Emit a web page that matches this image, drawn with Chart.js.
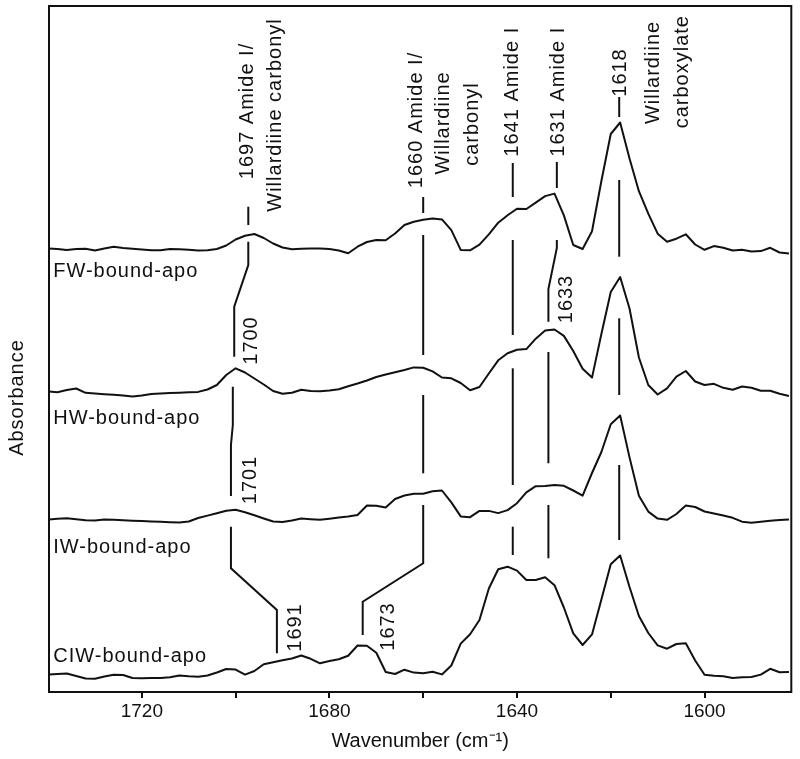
<!DOCTYPE html>
<html>
<head>
<meta charset="utf-8">
<script src="https://cdn.jsdelivr.net/npm/chart.js@4.4.0/dist/chart.umd.min.js"></script>
<style>
  html, body { margin: 0; padding: 0; background: #fff; }
</style>
</head>
<body>
<canvas id="mycanvas" width="800" height="759"></canvas>
<script>
// wavenumber grid (cm-1), read every 2 cm-1
var wavenumbers = [1740,1738,1736,1734,1732,1730,1728,1726,1724,1722,
	1720,1718,1716,1714,1712,1710,1708,1706,1704,1702,
	1700,1698,1696,1694,1692,1690,1688,1686,1684,1682,
	1680,1678,1676,1674,1672,1670,1668,1666,1664,1662,
	1660,1658,1656,1654,1652,1650,1648,1646,1644,1642,
	1640,1638,1636,1634,1632,1630,1628,1626,1624,1622,
	1620,1618,1616,1614,1612,1610,1608,1606,1604,1602,
	1600,1598,1596,1594,1592,1590,1588,1586,1584,1582];

// difference spectra, stacked (arbitrary absorbance units)
var fw = [443.5,443,442,443,443.3,441.5,443.5,445.3,444,443.2,
	442.5,441.7,441.8,443,442.8,442.2,441.6,441.8,443,446.5,
	452.5,456.3,458,454,448.5,444.5,442.8,443.2,443.6,443.5,
	442.9,441.5,438.7,445.3,450,452,451.7,458.5,467,470.3,
	472.3,473.5,472.6,461.9,442.1,441.7,447.4,457.6,469.3,476.8,
	483.3,483,489.4,495.9,498.4,476.6,447,443,460.7,511,
	558,569.5,533.5,500.8,478.3,458.3,450.3,453.3,457.7,447.5,
	442.2,445.9,444.3,441.5,442.3,440.6,440.9,444.2,439.5,438.6];

var hw = [300.5,299.7,302,303.5,299.2,298.5,297.8,297.2,296.5,295.5,
	296.5,298,298.5,299,299.3,299.8,300.1,302.5,307,317,
	323.7,319.5,313.5,307.5,301,298.2,299.3,302.3,301,300.8,
	301.5,302.7,305.8,308.5,311.5,315,317.5,319.7,322,324.6,
	324.2,320.6,314.5,313.7,309,301.8,305,318.5,331.7,338.7,
	342.2,342.9,353.3,361.6,362.5,356.1,341,323.3,314.4,358,
	400,415,383.5,334.5,307,297.5,303.7,315.3,321,310.5,
	307,308.2,304.2,302.2,305.5,304.2,301.3,301.3,298.2,296.1];

var iw = [172.5,173.2,173.7,172.7,171.7,171.6,172.6,172.2,171.7,171.3,
	171,170.5,170.2,169.8,169.5,170.5,174,176.4,178.8,181.3,
	182.2,179.8,176.7,173.5,170.5,169.9,171.4,173.4,172.8,172.3,
	173.3,174.5,175.6,177,186.5,186.2,184.5,193,196.5,198.3,
	198.3,200.7,201.5,189.6,175.6,174.8,181.1,181.1,178.9,181.9,
	188.8,199.7,205.8,206,207,206.2,201.5,196.4,219,240,
	267.7,276.5,234.6,196.2,180.4,173.4,172.2,178,186.4,185,
	180.5,178.4,176.4,174.2,170.3,169.3,170.3,171.2,171.9,172.6];

var ciw = [17.5,18,18.5,16,13.5,13.3,15.4,17.2,17,14,
	13.8,13.9,14,14.7,16.5,15.7,15.2,16.5,19.5,23,
	22.4,17.4,21,27.7,29.7,31.7,33.5,36.5,33.2,28.7,
	31,32.7,36.3,46.5,46.3,39.2,20,18,22.3,19.4,
	18.7,20.2,17.6,26.5,48.4,57.8,72,103.5,122.7,125.3,
	121.4,112,112,114.8,106.8,84.5,58.7,47,57.6,92.5,
	127.8,136.5,105,76,59,46.6,43.3,48,48.7,31.5,
	17.3,16.2,15.7,14,14.8,15,17.4,23.2,19.7,20];

var sampleNames = ['FW-bound-apo', 'HW-bound-apo', 'IW-bound-apo', 'CIW-bound-apo'];
var sampleNameY = [415, 268.5, 139.3, 30.3];

var tickValues = [1600, 1620, 1640, 1660, 1680, 1700, 1720];
var tickLabels = [1600, 1640, 1680, 1720];

// peak marker lines [wavenumber, level] ...
var markerLines = [
	[[1697.3,485.3],[1697.3,467]],
	[[1697.3,450.3],[1697.3,427],[1700.3,385.3],[1700.3,335.3]],
	[[1700.6,305.3],[1700.6,267],[1701,247],[1701,196]],
	[[1701,165.3],[1701,123.7],[1691.2,82],[1691.2,38.7]],
	[[1660,495],[1660,479]],
	[[1660,457],[1660,337]],
	[[1660,297],[1660,218.7]],
	[[1660,187],[1660,128.7],[1672.9,90.3],[1672.9,57]],
	[[1640.9,529],[1640.9,495]],
	[[1640.9,452],[1640.9,357]],
	[[1640.9,323.7],[1640.9,207]],
	[[1640.9,165.3],[1640.9,137]],
	[[1631.5,530],[1631.5,504]],
	[[1631.5,452],[1631.5,444],[1633.3,403],[1633.3,370.3]],
	[[1633.3,340],[1633.3,228.7]],
	[[1633.3,187],[1633.3,133.7]],
	[[1618.2,595],[1618.2,575]],
	[[1618.2,512],[1618.2,435.3]],
	[[1618.2,373.7],[1618.2,297]],
	[[1618.2,227],[1618.2,152]]
];

// rotated labels [text, wavenumber, level]
var markerLabels = [
	['1697 Amide I/', 1697.5, 581],
	['Willardiine carbonyl', 1691.4, 577],
	['1660 Amide I/', 1661.4, 572],
	['Willardiine', 1655.7, 569],
	['carbonyl', 1649.4, 568],
	['1641 Amide I', 1640.9, 600.3],
	['1631 Amide I', 1631.2, 600.3],
	['1618', 1618, 619.5],
	['Willardiine', 1610.9, 619.5],
	['carboxylate', 1604.7, 620.3],
	['1700', 1696.6, 351.5],
	['1701', 1696.8, 212],
	['1633', 1629.4, 393],
	['1691', 1687.3, 64.5],
	['1673', 1667.3, 65.5]
];

var fontFamily = '"Liberation Sans", Arial, Helvetica, sans-serif';

function pts(vals) {
	var out = [];
	for (var i = 0; i < wavenumbers.length; i++) {
		out.push({x: wavenumbers[i], y: vals[i]});
	}
	return out;
}

var annotate = {
	id: 'annotate',
	afterDatasetsDraw: function(chart) {
		var ctx = chart.ctx;
		var xs = chart.scales.x;
		var ys = chart.scales.y;
		var a = chart.chartArea;
		ctx.save();
		ctx.strokeStyle = '#111';
		ctx.lineWidth = 2;
		ctx.strokeRect(a.left, a.top, a.right - a.left, a.bottom - a.top);

		markerLines.forEach(function(path) {
			ctx.beginPath();
			path.forEach(function(p, i) {
				var px = xs.getPixelForValue(p[0]);
				var py = ys.getPixelForValue(p[1]);
				if (i === 0) ctx.moveTo(px, py); else ctx.lineTo(px, py);
			});
			ctx.stroke();
		});

		ctx.fillStyle = '#111';
		ctx.font = '20px ' + fontFamily;
		ctx.letterSpacing = '1px';
		ctx.textAlign = 'center';
		ctx.textBaseline = 'middle';
		markerLabels.forEach(function(m) {
			ctx.save();
			ctx.translate(xs.getPixelForValue(m[1]), ys.getPixelForValue(m[2]));
			ctx.rotate(-Math.PI / 2);
			ctx.fillText(m[0], 0, 0);
			ctx.restore();
		});

		ctx.textAlign = 'left';
		ctx.textBaseline = 'alphabetic';
		for (var i = 0; i < sampleNames.length; i++) {
			ctx.fillText(sampleNames[i], xs.getPixelForValue(1738.9), ys.getPixelForValue(sampleNameY[i]));
		}

		ctx.save();
		ctx.translate(17, 397.5);
		ctx.rotate(-Math.PI / 2);
		ctx.textAlign = 'center';
		ctx.textBaseline = 'middle';
		ctx.fillText('Absorbance', 0, 0);
		ctx.restore();
		ctx.restore();
	}
};

var ctx = document.getElementById('mycanvas');

var spectra = new Chart(ctx, {
	type: 'line',
	data: {
		datasets: [
			{ label: sampleNames[0], data: pts(fw) },
			{ label: sampleNames[1], data: pts(hw) },
			{ label: sampleNames[2], data: pts(iw) },
			{ label: sampleNames[3], data: pts(ciw) }
		]
	},
	options: {
		responsive: false,
		devicePixelRatio: 1,
		animation: false,
		layout: { padding: { left: 49, right: 8.7, top: 6, bottom: 0 } },
		plugins: { legend: { display: false }, tooltip: { enabled: false } },
		elements: {
			point: { radius: 0 },
			line: { tension: 0, borderWidth: 2, borderColor: '#111', borderJoinStyle: 'round', fill: false }
		},
		scales: {
			x: {
				type: 'linear',
				reverse: true,
				min: 1581.5,
				max: 1739.8,
				afterBuildTicks: function(scale) {
					scale.ticks = tickValues.map(function(v) { return {value: v}; });
				},
				afterFit: function(scale) { scale.height = 67; },
				ticks: {
					autoSkip: false,
					maxRotation: 0,
					padding: 2,
					color: '#111',
					font: { family: fontFamily, size: 19 },
					callback: function(v) { return tickLabels.indexOf(v) >= 0 ? String(v) : ''; }
				},
				grid: { drawOnChartArea: false, drawTicks: true, tickLength: 6, color: '#111', lineWidth: 2 },
				border: { display: true, color: '#111', width: 2 },
				title: {
					display: true,
					text: 'Wavenumber (cm\u207B\u00B9)',
					color: '#111',
					font: { family: fontFamily, size: 20 },
					padding: { top: 0, bottom: 6 }
				}
			},
			y: { display: false, min: 0, max: 686 }
		}
	},
	plugins: [annotate]
});
</script>
</body>
</html>
